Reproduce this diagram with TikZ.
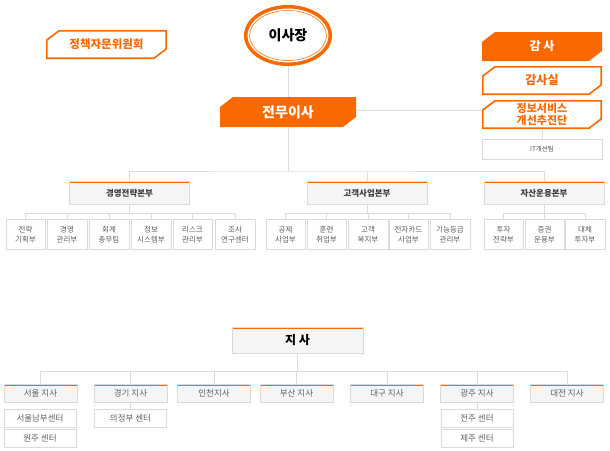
\documentclass[tikz,border=0pt]{standalone}
\usepackage{fontspec}
\setmainfont{Noto Sans CJK KR}
\usetikzlibrary{shapes.geometric}
\definecolor{orx}{RGB}{250,104,0}
\definecolor{lnx}{RGB}{220,220,220}
\definecolor{bdx}{RGB}{218,218,218}
\definecolor{bgx}{RGB}{245,245,245}
\definecolor{txx}{RGB}{95,95,95}
% box with cut corners (top left, bottom right), #2 = inset for the line
\newcommand\cutshape[2]{%
  \path[#1] ([xshift=13pt,yshift=-#2]path picture bounding box.north west)
    -- ([xshift=-#2,yshift=-#2]path picture bounding box.north east)
    -- ([xshift=-#2,yshift=10pt]path picture bounding box.south east)
    -- ([xshift=-13pt,yshift=#2]path picture bounding box.south east)
    -- ([xshift=#2,yshift=#2]path picture bounding box.south west)
    -- ([xshift=#2,yshift=-10pt]path picture bounding box.north west) -- cycle;}
\tikzset{
  link/.style={draw=lnx, line width=1pt},
  cut/.style={rectangle, inner sep=0pt, minimum width=120pt, minimum height=29pt,
    align=center, font=\bfseries\fontsize{12}{12}\selectfont},
  cutfill/.style={cut, text=white, path picture={\cutshape{fill=orx}{0pt}}},
  cutline/.style={cut, text=orx, path picture={\cutshape{draw=orx, line width=1.6pt}{0.8pt}}},
  topline/.style={draw=bdx, fill=bgx, inner sep=0pt,
    path picture={\draw[orx, line width=3pt] (path picture bounding box.north west) -- (path picture bounding box.north east);}},
  hqbox/.style={topline, minimum width=120pt, minimum height=23pt, text=black!75,
    font=\bfseries\fontsize{8.5}{8.5}\selectfont},
  unit/.style={draw=bdx, fill=white, inner sep=0pt, minimum width=39.5pt, minimum height=30pt,
    align=center, text=txx, font=\fontsize{7.5}{10.5}\selectfont},
  brbox/.style={topline, minimum width=73pt, minimum height=18pt, text=txx,
    font=\fontsize{8.5}{8.5}\selectfont},
  ctbox/.style={draw=bdx, fill=white, inner sep=0pt, minimum width=72pt, minimum height=18pt,
    text=txx, font=\fontsize{8.5}{8.5}\selectfont}
}
\begin{document}
\begin{tikzpicture}[x=1pt,y=-1pt]
\useasboundingbox (0,0) rectangle (610,450);
% top
\node[ellipse, draw=orx, line width=3.5pt, fill=white, minimum width=84.5pt, minimum height=57.5pt,
  font=\bfseries\fontsize{14}{14}\selectfont] (chair) at (288,35.5) {이사장};
\draw[orx!75, line width=0.8pt] (chair.center) ellipse [x radius=38.5, y radius=25];
\node[cutline, minimum width=121pt, font=\bfseries\fontsize{11.5}{11.5}\selectfont] (policy) at (106.5,44.5) {정책자문위원회};
\node[cutfill, minimum width=136pt, minimum height=30pt, font=\bfseries\fontsize{14}{14}\selectfont] (exec) at (288,112) {전무이사};
\node[cutfill] (audit) at (542,46.5) {감 사};
\node[cutline] (auditoff) at (542,80.5) {감사실};
\node[cutline, font=\bfseries\fontsize{11}{12.5}\selectfont] (infosvc) at (542,114.5) {정보서비스\\개선추진단};
\node[draw=bdx, fill=white, inner sep=0pt, minimum width=120pt, minimum height=20pt,
  text=black!70, font=\fontsize{6.5}{6.5}\selectfont] (itteam) at (542,149) {IT개선팀};
\draw[link] (chair.south) -- (exec.north);
\draw[link] ([yshift=2pt]exec.east) -- ([yshift=2pt]exec.east -| infosvc.west);
\draw[link] (infosvc.south) -- (itteam.north);
% headquarters
\coordinate (bus) at (288,171);
\node[hqbox] (hq1) at (129.5,193) {경영전략본부};
\node[hqbox] (hq2) at (367,193) {고객사업본부};
\node[hqbox] (hq3) at (544,193) {자산운용본부};
\draw[link] (exec.south) -- (bus);
\draw[link] (hq1.north) |- (bus) -| (hq3.north);
\draw[link] (hq2.north) -- (hq2.north |- bus);
% departments
\foreach \px/\txt [count=\i] in {25.5/{전략\\기획부}, 67/{경영\\관리부}, 109/{회계\\총무팀},
    151/{정보\\시스템부}, 192.5/{리스크\\관리부}, 235/{조사\\연구센터}}
  \node[unit] (a\i) at (\px,234.5) {\txt};
\foreach \px/\txt [count=\i] in {285.5/{공제\\사업부}, 326.5/{훈련\\취업부}, 368/{고객\\복지부},
    408.5/{전자카드\\사업부}, 450/{기능등급\\관리부}}
  \node[unit] (g\i) at (\px,234.5) {\txt};
\foreach \px/\txt [count=\i] in {503.5/{투자\\전략부}, 544.5/{증권\\운용부}, 585/{대체\\투자부}}
  \node[unit] (f\i) at (\px,234.5) {\txt};
\draw[link] (hq1.south) -- ++(0,8.5) coordinate (ja);
\draw[link] (hq2.south) -- ++(0,8.5) coordinate (jg);
\draw[link] (hq3.south) -- ++(0,8.5) coordinate (jf);
\draw[link] (a1.north |- ja) -- (a6.north |- ja);
\draw[link] (g1.north |- jg) -- (g5.north |- jg);
\draw[link] (f1.north |- jf) -- (f3.north |- jf);
\foreach \i in {1,...,6} \draw[link] (a\i.north) -- (a\i.north |- ja);
\foreach \i in {1,...,5} \draw[link] (g\i.north) -- (g\i.north |- jg);
\foreach \i in {1,...,3} \draw[link] (f\i.north) -- (f\i.north |- jf);
% branches
\node[topline, minimum width=131pt, minimum height=26pt, text=black,
  font=\bfseries\fontsize{12}{12}\selectfont] (branch) at (297.5,340) {지 사};
\foreach \px/\txt [count=\i] in {40.5/서울 지사, 130.5/경기 지사, 214/인천지사, 296.5/부산 지사,
    387/대구 지사, 477/광주 지사, 567/대전 지사}
  \node[brbox] (b\i) at (\px,393) {\txt};
\draw[link] (branch.south) -- ++(0,18) coordinate (jb);
\draw[link] (b1.north |- jb) -- (b7.north |- jb);
\foreach \i in {1,...,7} \draw[link] (b\i.north) -- (b\i.north |- jb);
\node[ctbox] (c1) at (40,418) {서울남부센터};
\node[ctbox] (c2) at (40,438.5) {원주 센터};
\node[ctbox] (c3) at (130.5,418) {의정부 센터};
\node[ctbox] (c4) at (477,418) {전주 센터};
\node[ctbox] (c5) at (477,438.5) {제주 센터};
\draw[link] (b2.south) -- (c3.north);
\draw[link] (b6.south) -- (c4.north);
\end{tikzpicture}
\end{document}
